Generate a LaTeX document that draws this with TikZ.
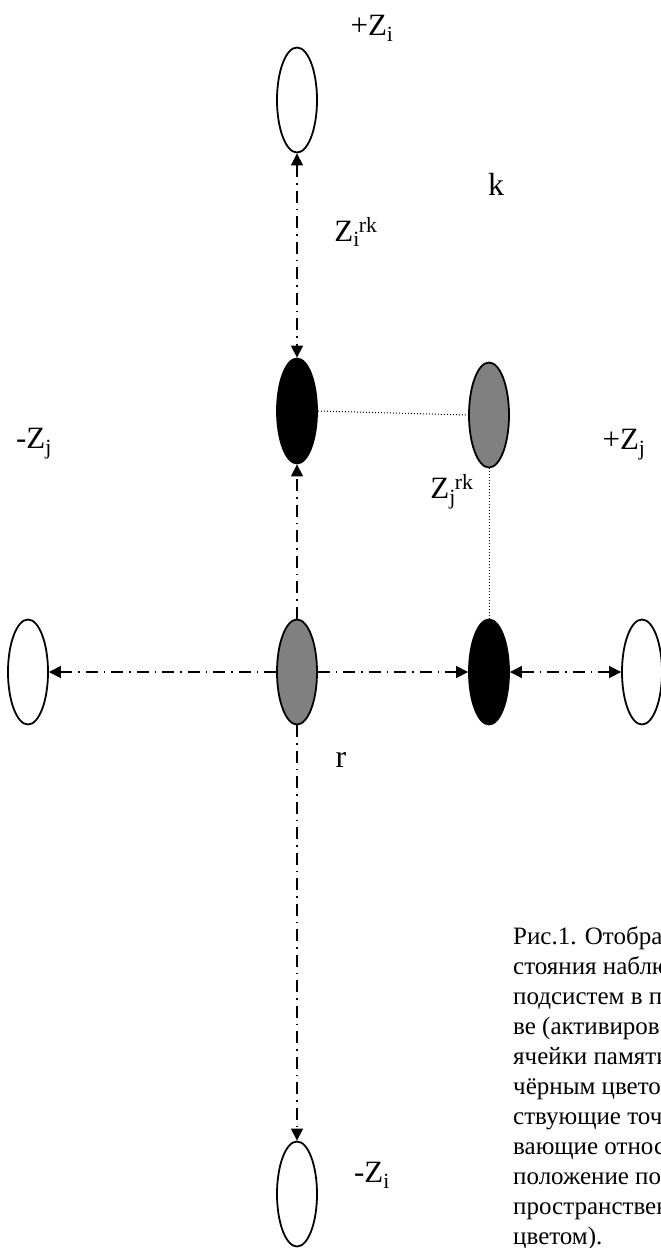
\documentclass[tikz,border=0pt]{standalone}
\usepackage{fontspec}
\setmainfont{Liberation Serif}
\usetikzlibrary{shapes.geometric,arrows.meta}
\definecolor{midgray}{RGB}{128,128,128}
\newcommand{\zlab}[2]{Z\textsubscript{#1}\kern-1pt\textsuperscript{#2}}
\tikzset{
  ell/.style={ellipse, minimum width=40pt, minimum height=105pt, inner sep=0pt, draw=black, line width=1.8pt},
  whiteell/.style={ell, fill=white},
  grayell/.style={ell, fill=midgray},
  blackell/.style={ell, fill=black},
  dd/.style={line width=1.2pt, dash pattern=on 12pt off 6pt on 1.5pt off 6pt},
  tip/.style={-{Triangle[length=12pt,width=12pt]}},
  tips/.style={{Triangle[length=12pt,width=12pt]}-{Triangle[length=12pt,width=12pt]}},
  dotline/.style={line width=1pt, dash pattern=on 1pt off 2pt},
  lbl/.style={inner sep=0pt, font=\fontsize{31}{36}\selectfont},
  biglbl/.style={inner sep=0pt, font=\fontsize{32}{36}\selectfont},
  caption/.style={inner sep=0pt, align=left, anchor=north west, font=\fontsize{25}{30}\selectfont}
}
\begin{document}
\begin{tikzpicture}[x=1pt,y=-1pt]
\clip (0,0) rectangle (661,1248);
\fill[white] (0,0) rectangle (661,1248);
% ellipses
\node[whiteell] (topW) at (297,100) {};
\node[blackell] (blackT) at (297,411) {};
\node[grayell] (grayR) at (489,415) {};
\node[whiteell] (leftW) at (28,672) {};
\node[grayell] (grayC) at (297,672) {};
\node[blackell] (blackR) at (489,672) {};
\node[whiteell] (rightW) at (642,672) {};
\node[whiteell] (botW) at (297,1194) {};
% connectors
\draw[dd,tips] (topW.south) -- (blackT.north);
\draw[dd,tip] (grayC.north) -- (blackT.south);
\draw[dd,tip] (grayC.south) -- (botW.north);
\draw[dd,tip] (grayC.west) -- (leftW.east);
\draw[dd,tip] (grayC.east) -- (blackR.west);
\draw[dd,tips] (blackR.east) -- (rightW.west);
\draw[dotline] (blackT.east) -- (grayR.west);
\draw[dotline] (grayR.south) -- (blackR.north);
% labels
\node[lbl] (lpzi) at (372,28) {+Z\textsubscript{i}};
\node[lbl] (lzirk) at (356,232) {\zlab{i}{rk}};
\node[biglbl] (lk) at (496,184) {k};
\node[lbl] (lmzj) at (34,444) {-Z\textsubscript{j}};
\node[lbl] (lpzj) at (624,445) {+Z\textsubscript{j}};
\node[lbl] (lzjrk) at (452,492) {\zlab{j}{rk}};
\node[biglbl] (lr) at (341,760) {r};
\node[lbl] (lmzi) at (372,1175) {-Z\textsubscript{i}};
% caption
\node[caption] (cap) at (513,926) {Рис.1. Отображ\\стояния наблю\\подсистем в п\\ве (активиров\\ячейки памяти\\чёрным цвето\\ствующие точ\\вающие относ\\положение по\\пространствен\\цветом).};
\end{tikzpicture}
\end{document}
